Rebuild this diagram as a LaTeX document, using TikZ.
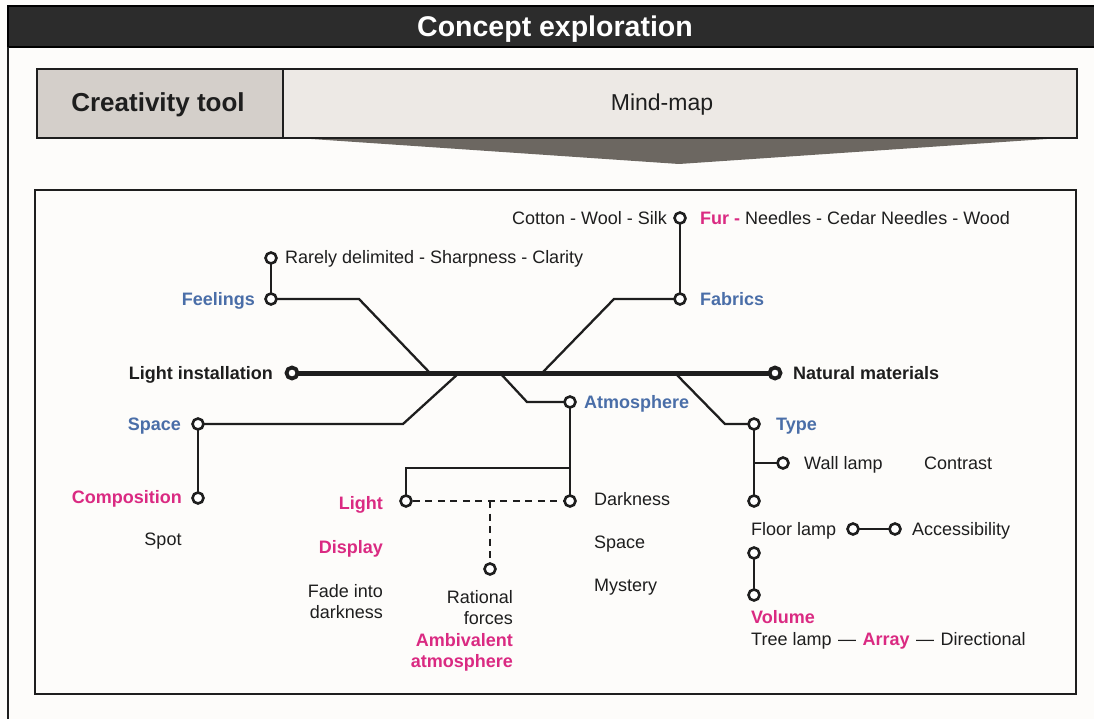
\documentclass[tikz,border=0pt]{standalone}
\usepackage{fontspec}
\setmainfont{Liberation Sans}
\usetikzlibrary{backgrounds}
\definecolor{bgc}{RGB}{253,252,250}
\definecolor{titlec}{RGB}{44,44,44}
\definecolor{cellA}{RGB}{212,207,202}
\definecolor{cellB}{RGB}{237,233,229}
\definecolor{chevc}{RGB}{108,103,97}
\definecolor{mblue}{RGB}{74,110,168}
\definecolor{mmag}{RGB}{218,42,130}
\definecolor{ink}{RGB}{30,30,30}
\newcommand{\bodyf}{\fontsize{18}{21.7}\selectfont}
\begin{document}
\begin{tikzpicture}[x=1pt,y=-1pt,
  dot/.style={circle,draw=ink,fill=white,line width=2.6pt,minimum size=11pt,inner sep=0pt},
  bigdot/.style={dot,line width=3.8pt,minimum size=11pt},
  conn/.style={draw=ink,line width=2.3pt,line join=miter},
  mainline/.style={draw=ink,line width=5pt},
  dashconn/.style={conn,dash pattern=on 7pt off 5.5pt},
  lbl/.style={inner sep=0pt,text height=12.9pt,text depth=0pt,font=\bodyf,text=ink},
  blu/.style={lbl,font=\bodyf\bfseries,text=mblue},
  mag/.style={lbl,font=\bodyf\bfseries,text=mmag},
  blk/.style={lbl,font=\bodyf\bfseries,text=ink}]
\useasboundingbox (0,0) rectangle (1094,719);
\begin{scope}[on background layer]
\fill[bgc] (0,0) rectangle (1094,719);
\end{scope}
% header
\fill[titlec] (8,6) rectangle (1094,47);
\draw[black,line width=1.2pt] (1094,6) -- (8,6) -- (8,47) -- (1094,47);
\draw[ink,line width=1.6pt] (8,47) -- (8,719);
\node[font=\fontsize{28.5}{32}\bfseries,text=white,inner sep=0pt,text height=20.5pt,text depth=0pt] (title) at (555,26) {Concept exploration};
% creativity tool bar
\fill[chevc] (282,137) -- (1076,137) -- (679,164) -- cycle;
\node[draw=ink,line width=1.8pt,fill=cellA,minimum width=246pt,minimum height=69pt,anchor=north west,inner sep=0pt] (cellA) at (36,68) {};
\node[draw=ink,line width=1.8pt,fill=cellB,minimum width=794pt,minimum height=69pt,anchor=north west,inner sep=0pt] (cellB) at (282,68) {};
\node[font=\fontsize{26}{30}\bfseries,text=ink,inner sep=0pt,text height=18.6pt,text depth=0pt] (ct) at (158,102) {Creativity tool};
\node[font=\fontsize{23}{27}\selectfont,text=ink,inner sep=0pt,text height=16.5pt,text depth=0pt] (mm) at (662,102) {Mind-map};
% frame
\draw[ink,line width=1.8pt] (35,190) rectangle (1076,694);
% dots
\node[dot] (cot) at (680,218) {};
\node[dot] (fab) at (680,299) {};
\node[dot] (feelUp) at (271,258) {};
\node[dot] (feel) at (271,299) {};
\node[bigdot] (li) at (292,373) {};
\node[bigdot] (nm) at (775,373) {};
\node[dot] (space) at (198,424) {};
\node[dot] (comp) at (198,498) {};
\node[dot] (atm) at (570,402) {};
\node[dot] (dark) at (570,501) {};
\node[dot] (light) at (406,501) {};
\node[dot] (rat) at (490,569) {};
\node[dot] (type) at (754,424) {};
\node[dot] (wall) at (783,463) {};
\node[dot] (tnode) at (754,501) {};
\node[dot] (fl1) at (853,529) {};
\node[dot] (fl2) at (895,529) {};
\node[dot] (v1) at (754,553) {};
\node[dot] (v2) at (754,595) {};
\coordinate (b1) at (430,373);
\coordinate (b2) at (459,373);
\coordinate (b3) at (500,373);
\coordinate (b4) at (542,373);
\coordinate (b5) at (675,373);
\coordinate (atmJ) at (570,468);
\coordinate (typeJ) at (754,463);
\coordinate (dashJ) at (490,501);
% connectors
\begin{scope}[on background layer]
\draw[mainline] (li.center) -- (nm.center);
\draw[conn] (cot.center) -- (fab.center);
\draw[conn] (feelUp.center) -- (feel.center);
\draw[conn] (feel.center) -- (359,299) -- (b1);
\draw[conn] (fab.center) -- (614,299) -- (b4);
\draw[conn] (space.center) -- (403,424) -- (b2);
\draw[conn] (b3) -- (527,402) -- (atm.center);
\draw[conn] (b5) -- (725,424) -- (type.center);
\draw[conn] (space.center) -- (comp.center);
\draw[conn] (atm.center) -- (dark.center);
\draw[conn] (atmJ) -- (406,468) -- (light.center);
\draw[dashconn] (light) -- (dark);
\draw[dashconn] (dashJ) -- (rat);
\draw[conn] (type.center) -- (tnode.center);
\draw[conn] (typeJ) -- (wall.center);
\draw[conn] (fl1.center) -- (fl2.center);
\draw[conn] (v1.center) -- (v2.center);
\end{scope}
% labels
\node[lbl,anchor=east] (cotT) at (667,218) {Cotton - Wool - Silk};
\node[lbl,anchor=west] (furT) at (700,218) {{\bfseries\color{mmag}Fur -} Needles - Cedar Needles - Wood};
\node[lbl,anchor=west] (rarT) at (285,257) {Rarely delimited - Sharpness - Clarity};
\node[blu,anchor=east] (feelT) at (255,299) {Feelings};
\node[blu,anchor=west] (fabT) at (700,299) {Fabrics};
\node[blk,anchor=east] (liT) at (273,373) {Light installation};
\node[blk,anchor=west] (nmT) at (793,373) {Natural materials};
\node[blu,anchor=west] (atmT) at (584,402) {Atmosphere};
\node[blu,anchor=east] (spaceT) at (181,424) {Space};
\node[blu,anchor=west] (typeT) at (776,424) {Type};
\node[lbl,anchor=west] (wallT) at (804,463) {Wall lamp};
\node[lbl,anchor=west] (contrT) at (924,463) {Contrast};
\node[mag,anchor=east] (compT) at (182,497) {Composition};
\node[mag,anchor=east] (lightT) at (383,503) {Light};
\node[lbl,anchor=west] (darkT) at (594,499) {Darkness};
\node[lbl] (spotT) at (163,539) {Spot};
\node[lbl,anchor=west] (floorT) at (751,529) {Floor lamp};
\node[lbl,anchor=west] (accT) at (912,529) {Accessibility};
\node[mag,anchor=east] (dispT) at (383,547) {Display};
\node[lbl,anchor=west] (space2T) at (594,542) {Space};
\node[lbl,anchor=west] (mystT) at (594,585) {Mystery};
\node[lbl,anchor=east] (fade1) at (383,591) {Fade into};
\node[lbl,anchor=east] (fade2) at (383,612) {darkness};
\node[lbl,anchor=east] (rat1) at (513,597) {Rational};
\node[lbl,anchor=east] (rat2) at (513,618) {forces};
\node[mag,anchor=east] (amb1) at (513,640) {Ambivalent};
\node[mag,anchor=east] (amb2) at (513,661) {atmosphere};
\node[mag,anchor=west] (volT) at (751,617) {Volume};
\node[lbl,anchor=west] (treeT) at (751,639) {Tree lamp\kern1.5pt\ —\kern1.5pt\ {\bfseries\color{mmag}Array}\kern1.5pt\ —\kern1.5pt\ Directional};
\end{tikzpicture}
\end{document}
